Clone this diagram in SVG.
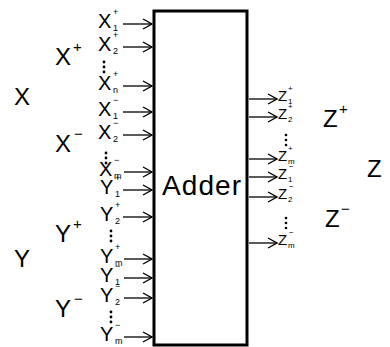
<svg xmlns="http://www.w3.org/2000/svg" width="390" height="347" viewBox="0 0 390 347">
<style>
text{font-family:"Liberation Sans",Arial,sans-serif;fill:#000}
.big{font-size:24px}
.bs{font-size:15px}
.in{font-size:20px}
.is{font-size:9px}
.out{font-size:15px}
.os{font-size:8px}
.ad{font-family:"Liberation Sans Narrow","Liberation Sans",Arial,sans-serif;font-size:28px}
.c line{stroke:#000;stroke-width:1.3;marker-end:url(#ah)}
.dot{fill:#000}
</style>
<defs>
<marker id="ah" markerUnits="userSpaceOnUse" markerWidth="14" markerHeight="14" refX="10" refY="6" orient="auto" viewBox="0 0 14 14">
<path d="M1,1 L10,6 L1,11" fill="none" stroke="#000" stroke-width="1.4"/>
</marker>
</defs>
<rect width="390" height="347" fill="#fff"/>
<g id="adder">
<rect x="154" y="11" width="93" height="334" fill="none" stroke="#000" stroke-width="3"/>
<text class="ad" x="162" y="195" textLength="79" lengthAdjust="spacing">Adder</text>
</g>
<g id="groups">
<text class="big" x="14" y="105">X</text>
<text class="big" x="55" y="65">X</text><text class="bs" x="73" y="52">+</text>
<text class="big" x="55" y="152">X</text><text class="bs" x="74" y="139">−</text>
<text class="big" x="14" y="267">Y</text>
<text class="big" x="55" y="242">Y</text><text class="bs" x="73" y="229">+</text>
<text class="big" x="55" y="317">Y</text><text class="bs" x="74" y="304">−</text>
<text class="big" x="367" y="177">Z</text>
<text class="big" x="323" y="127">Z</text><text class="bs" x="339" y="114">+</text>
<text class="big" x="325" y="227">Z</text><text class="bs" x="341" y="214">−</text>
</g>
<g id="inputs">
<text class="in" x="98" y="28">X</text><text class="is" x="113" y="31">1</text><text class="is" x="113" y="15">+</text>
<text class="in" x="98" y="51">X</text><text class="is" x="113" y="54">2</text><text class="is" x="113" y="38">+</text>
<text class="in" x="98" y="90">X</text><text class="is" x="113" y="93">n</text><text class="is" x="113" y="77">+</text>
<text class="in" x="98" y="116">X</text><text class="is" x="113" y="119">1</text><text class="is" x="113" y="103">−</text>
<text class="in" x="98" y="139">X</text><text class="is" x="113" y="142">2</text><text class="is" x="113" y="126">−</text>
<text class="in" x="99" y="176">X</text><text class="is" x="114" y="179">m</text><text class="is" x="114" y="163">−</text>
<text class="in" x="100" y="194">Y</text><text class="is" x="115" y="197">1</text><text class="is" x="115" y="181">+</text>
<text class="in" x="100" y="221">Y</text><text class="is" x="115" y="224">2</text><text class="is" x="115" y="208">+</text>
<text class="in" x="100" y="263">Y</text><text class="is" x="115" y="266">m</text><text class="is" x="115" y="250">+</text>
<text class="in" x="100" y="282">Y</text><text class="is" x="115" y="285">1</text><text class="is" x="115" y="269">−</text>
<text class="in" x="100" y="302">Y</text><text class="is" x="115" y="305">2</text><text class="is" x="115" y="289">−</text>
<text class="in" x="100" y="341">Y</text><text class="is" x="115" y="344">m</text><text class="is" x="115" y="328">−</text>
<circle class="dot" cx="104" cy="62" r="1.4"/><circle class="dot" cx="104" cy="67" r="1.4"/><circle class="dot" cx="104" cy="72" r="1.4"/>
<circle class="dot" cx="106" cy="153" r="1.4"/><circle class="dot" cx="106" cy="158" r="1.4"/><circle class="dot" cx="106" cy="163" r="1.4"/>
<circle class="dot" cx="111" cy="231" r="1.4"/><circle class="dot" cx="111" cy="236" r="1.4"/><circle class="dot" cx="111" cy="241" r="1.4"/>
<circle class="dot" cx="111" cy="312" r="1.4"/><circle class="dot" cx="111" cy="317" r="1.4"/><circle class="dot" cx="111" cy="322" r="1.4"/>
</g>
<g id="outputs">
<text class="out" x="278" y="101">Z</text><text class="os" x="288" y="104">1</text><text class="os" x="288" y="91">+</text>
<text class="out" x="278" y="119">Z</text><text class="os" x="288" y="122">2</text><text class="os" x="288" y="109">+</text>
<text class="out" x="278" y="161">Z</text><text class="os" x="288" y="164">m</text><text class="os" x="288" y="151">+</text>
<text class="out" x="278" y="179">Z</text><text class="os" x="288" y="182">1</text><text class="os" x="289" y="169">−</text>
<text class="out" x="278" y="199">Z</text><text class="os" x="288" y="202">2</text><text class="os" x="289" y="189">−</text>
<text class="out" x="278" y="245">Z</text><text class="os" x="288" y="248">m</text><text class="os" x="289" y="235">−</text>
<circle class="dot" cx="286" cy="135" r="1.3"/><circle class="dot" cx="286" cy="140" r="1.3"/><circle class="dot" cx="286" cy="145" r="1.3"/>
<circle class="dot" cx="286" cy="218" r="1.3"/><circle class="dot" cx="286" cy="223" r="1.3"/><circle class="dot" cx="286" cy="228" r="1.3"/>
</g>
<g id="connectors" class="c">
<line x1="123" y1="24" x2="152" y2="24"/>
<line x1="123" y1="47" x2="152" y2="47"/>
<line x1="123" y1="86" x2="152" y2="86"/>
<line x1="123" y1="112" x2="152" y2="112"/>
<line x1="123" y1="135" x2="152" y2="135"/>
<line x1="124" y1="172" x2="152" y2="172"/>
<line x1="123" y1="190" x2="152" y2="190"/>
<line x1="123" y1="217" x2="152" y2="217"/>
<line x1="124" y1="259" x2="152" y2="259"/>
<line x1="124" y1="278" x2="152" y2="278"/>
<line x1="124" y1="298" x2="152" y2="298"/>
<line x1="124" y1="337" x2="152" y2="337"/>
<line x1="249" y1="99" x2="277" y2="99"/>
<line x1="249" y1="117" x2="277" y2="117"/>
<line x1="249" y1="159" x2="277" y2="159"/>
<line x1="249" y1="177" x2="277" y2="177"/>
<line x1="249" y1="197" x2="277" y2="197"/>
<line x1="249" y1="243" x2="277" y2="243"/>
</g>
</svg>
